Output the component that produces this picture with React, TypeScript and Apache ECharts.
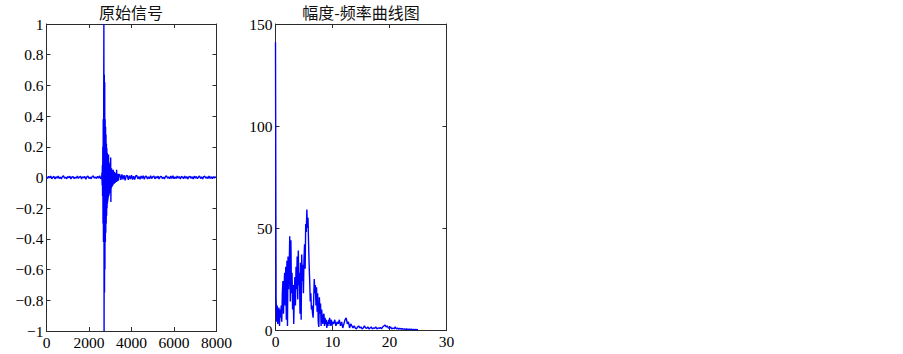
import React, { useEffect, useRef } from "react";
import * as echarts from "echarts";

// ---- Original signal (time samples) ----
const PRE_START = 0;
const PRE_STEP = 50;
const signalPre = [
  0.004, -0.006, 0.008, -0.003, 0.01, -0.008, 0.002, 0.007, -0.01, 0.005,
  -0.004, 0.009, -0.007, 0.003, -0.009, 0.006, 0.011, -0.005, 0.002, -0.008,
  0.007, -0.003, 0.009, -0.01, 0.004, 0.006, -0.007, 0.002, -0.005, 0.01,
  -0.006, 0.003, 0.008, -0.009, 0.005, -0.002, 0.007, -0.011, 0.004, 0.009,
  -0.006, 0.002, -0.008, 0.006, 0.01, -0.004, 0.003, -0.007, 0.008, -0.005,
  0.012, -0.009, 0.005,
];
const BURST_START = 2610;
const BURST_STEP = 10;
const signalBurst = [
  0.03, -0.05, 0.08, -0.12, 0.2, -0.3, 0.38, -0.42, 0.36, 1.0,
  -1.0, 0.67, -0.75, 0.62, -0.6, 0.38, -0.42, 0.33, -0.36, 0.28,
  -0.3, 0.22, -0.25, 0.19, -0.2, 0.16, -0.17, 0.14, -0.15, 0.12,
  -0.13, 0.15, -0.12, 0.1, -0.11, 0.09, -0.1, 0.08, -0.09, 0.07,
  -0.08, 0.13, -0.16, 0.06, -0.07, 0.06, -0.06, 0.05, -0.06, 0.05,
  -0.05, 0.04, -0.05, 0.05, -0.04, 0.04, -0.04, 0.035, -0.04, 0.035,
  -0.035, 0.03, -0.035, 0.03, -0.03, 0.03, -0.03, 0.025, -0.03, 0.05,
  -0.025, 0.025, -0.025, 0.02, -0.025, 0.025, -0.02, 0.02, -0.02, 0.02,
];
const POST_START = 3450;
const POST_STEP = 50;
const signalPost = [
  0.018, -0.015, 0.02, -0.012, 0.016, -0.018, 0.01, 0.014, -0.016, 0.012,
  -0.01, 0.015, -0.013, 0.008, -0.014, 0.011, 0.013, -0.009, 0.006, -0.012,
  0.01, -0.006, 0.012, -0.011, 0.007, 0.009, -0.01, 0.004, -0.008, 0.011,
  -0.007, 0.005, 0.01, -0.009, 0.006, -0.004, 0.009, -0.01, 0.005, 0.008,
  -0.007, 0.003, -0.009, 0.007, 0.01, -0.005, 0.004, -0.008, 0.009, -0.006,
  0.011, -0.008, 0.005, -0.007, 0.009, -0.004, 0.006, -0.01, 0.007, 0.003,
  -0.008, 0.01, -0.005, 0.006, -0.009, 0.004, 0.008, -0.006, 0.005, -0.01,
  0.009, -0.004, 0.007, -0.008, 0.003, 0.01, -0.007, 0.005, -0.009, 0.006,
  0.008, -0.005, 0.004, -0.007, 0.009, -0.006, 0.005, -0.008, 0.006, -0.004,
  0.007,
];

// ---- Amplitude spectrum ----
const SPEC_LOW_STEP = 0.1;
const spectrumLow = [
  141, 16, 4, 12, 3, 8, 11, 2, 10, 6,
  12, 4, 18, 24, 8, 20, 28, 12, 31, 5,
  34, 2, 36, 20, 30, 46, 14, 44, 18, 28,
  10, 22, 3, 18, 26, 12, 31, 20, 36, 15,
  39, 22, 28, 8, 33, 5, 37, 24, 32, 18,
  35, 42, 30, 52, 48, 59, 50, 55, 43, 32,
  24, 14, 18, 10, 12, 8, 6, 15, 25, 18,
  22, 12, 21, 9, 18, 4, 1.5, 16, 8, 13,
  2, 10, 6, 3, 7, 8, 2, 6, 3, 5,
  1, 4, 2, 5, 3, 6, 2, 4, 5, 2,
  4,
];
const SPEC_HIGH_START = 10.2;
const SPEC_HIGH_STEP = 0.2;
const spectrumHigh = [
  3, 5, 2, 4, 3, 5, 2, 4, 1, 3,
  5, 6, 3, 4, 1, 3, 2, 1, 2, 1,
  0.5, 1.5, 2, 1, 1.5, 0.5, 1, 2, 1, 0.8,
  1.5, 0.5, 1, 1.5, 0.5, 1, 0.8, 1.5, 0.5, 1,
  0.8, 1.2, 0.6, 1.5, 2, 2.5, 1.5, 2, 1, 0.8,
  1.5, 0.5, 1, 0.6, 1.5, 0.5, 1, 0.4, 0.8, 0.5,
  0.6, 0.4, 0.5, 0.3, 0.5, 0.3, 0.4, 0.3, 0.4, 0.2,
  0.3, 0.2, 0.3, 0.2, 0.2,
];

const titles = ["原始信号", "幅度-频率曲线图"];

const AXIS_COLOR = "#2b2b2b";
const LINE_COLOR = "#0000ff";
const SERIF = "'Liberation Serif', 'Times New Roman', serif";
const CJK = "'Noto Sans CJK SC', sans-serif";

function fmtNum(v: number) {
  const r = Math.round(v * 10) / 10;
  return String(r).replace("-", "\u2212");
}

export default function App() {
  const ref = useRef<HTMLDivElement>(null);
  useEffect(() => {
    if (!ref.current) return;
    const chart = echarts.init(ref.current, undefined, { renderer: "svg" });

    const sig: number[][] = [];
    signalPre.forEach((v, i) => sig.push([PRE_START + i * PRE_STEP, v]));
    signalBurst.forEach((v, i) => sig.push([BURST_START + i * BURST_STEP, v]));
    signalPost.forEach((v, i) => sig.push([POST_START + i * POST_STEP, v]));

    const spec: number[][] = [];
    spectrumLow.forEach((v, i) => spec.push([+(i * SPEC_LOW_STEP).toFixed(2), v]));
    spectrumHigh.forEach((v, i) =>
      spec.push([+(SPEC_HIGH_START + i * SPEC_HIGH_STEP).toFixed(2), v])
    );

    const axisLine = { show: true, onZero: false, lineStyle: { color: AXIS_COLOR, width: 1 } };
    const tick = { show: true, inside: true, length: 4, lineStyle: { color: AXIS_COLOR } };
    const label = {
      show: true,
      color: "#000",
      fontFamily: SERIF,
      fontSize: 15.5,
      formatter: (v: number) => fmtNum(v),
    };
    const mkX = (grid: number, pos: "bottom" | "top", min: number, max: number, interval: number, showLabel: boolean) => ({
      type: "value",
      gridIndex: grid,
      position: pos,
      min,
      max,
      interval,
      axisLine,
      axisTick: tick,
      splitLine: { show: false },
      axisLabel: showLabel ? { ...label, margin: 3 } : { show: false },
    });
    const mkY = (grid: number, pos: "left" | "right", min: number, max: number, interval: number, showLabel: boolean) => ({
      type: "value",
      gridIndex: grid,
      position: pos,
      min,
      max,
      interval,
      axisLine,
      axisTick: tick,
      splitLine: { show: false },
      axisLabel: showLabel ? { ...label, margin: 3 } : { show: false },
    });

    const titleStyle = { fontFamily: CJK, fontSize: 16, fontWeight: "normal", color: "#111", lineHeight: 18 };
    chart.setOption({
      animation: false,
      backgroundColor: "#fff",
      title: [
        { text: titles[0], left: 131, top: 3, padding: 0, textAlign: "center", textStyle: titleStyle },
        { text: titles[1], left: 361, top: 3, padding: 0, textAlign: "center", textStyle: titleStyle },
      ],
      grid: [
        { left: 46.5, top: 24, width: 170, height: 307 },
        { left: 275.5, top: 24, width: 171, height: 306 },
      ],
      xAxis: [
        mkX(0, "bottom", 0, 8000, 2000, true),
        mkX(0, "top", 0, 8000, 2000, false),
        mkX(1, "bottom", 0, 30, 10, true),
        mkX(1, "top", 0, 30, 10, false),
      ],
      yAxis: [
        mkY(0, "left", -1, 1, 0.2, true),
        mkY(0, "right", -1, 1, 0.2, false),
        mkY(1, "left", 0, 150, 50, true),
        mkY(1, "right", 0, 150, 50, false),
      ],
      series: [
        {
          type: "line",
          xAxisIndex: 0,
          yAxisIndex: 0,
          data: sig,
          showSymbol: false,
          lineStyle: { color: LINE_COLOR, width: 1.4 },
        },
        {
          type: "line",
          xAxisIndex: 2,
          yAxisIndex: 2,
          data: spec,
          showSymbol: false,
          lineStyle: { color: LINE_COLOR, width: 1.4 },
        },
      ],
    });
    return () => chart.dispose();
  }, []);
  return (
    <div
      ref={ref}
      style={{ position: "fixed", left: 0, top: 0, width: 903, height: 354 }}
    />
  );
}
